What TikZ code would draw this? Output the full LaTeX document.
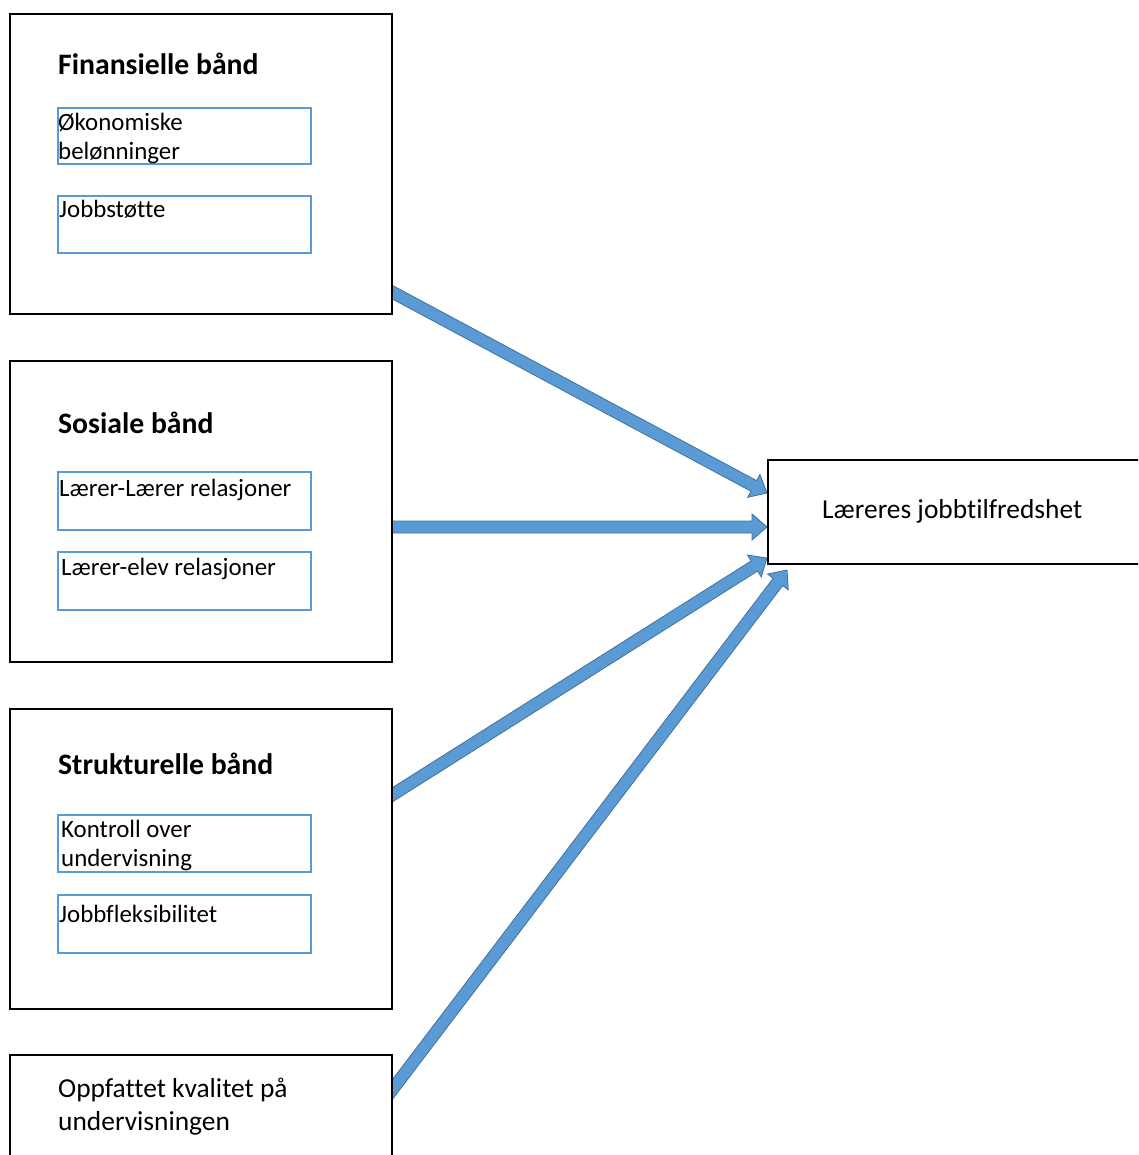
\documentclass[tikz,border=0pt]{standalone}
\usepackage{fontspec}
\setmainfont{Carlito}[Ligatures={NoCommon,NoContextual}]
\usetikzlibrary{calc}
\definecolor{arrfill}{RGB}{91,155,213}
\definecolor{arredge}{RGB}{65,113,156}
\definecolor{innerblue}{RGB}{91,155,213}
\newcommand\mkblockarrow[2]{%
  \coordinate (ba-S) at ($(#1)!-10pt!(#2)$);
  \coordinate (ba-P) at ($(#2)!15pt!(#1)$);
  \filldraw[fill=arrfill, draw=arredge, line width=0.8pt, line join=miter]
    ($(ba-S)!6pt!90:(#2)$) -- ($(ba-P)!6pt!90:(#2)$) -- ($(ba-P)!13pt!90:(#2)$) -- (#2)
    -- ($(ba-P)!13pt!-90:(#2)$) -- ($(ba-P)!6pt!-90:(#2)$) -- ($(ba-S)!6pt!-90:(#2)$) -- cycle;
}
\tikzset{
  bigbox/.style={draw=black, fill=white, line width=2.8pt, rectangle, inner sep=0pt, outer sep=0pt, anchor=north west},
  innerbox/.style={draw=innerblue, line width=2.6pt, rectangle, inner sep=0pt, outer sep=0pt, anchor=north west, minimum width=253pt},
  titletext/.style={font=\fontsize{29.7}{35}\selectfont\bfseries, inner sep=0pt, anchor=base west},
  itext/.style={font=\fontsize{24.9}{30}\selectfont, inner sep=0pt, anchor=base west},
  btext/.style={font=\fontsize{27.4}{33}\selectfont, inner sep=0pt, anchor=base west},
}
\begin{document}
\begin{tikzpicture}[x=1pt, y=-1pt]
\useasboundingbox (0,0) rectangle (1138,1155);
\clip (0,0) rectangle (1138,1155);
% boxes (coordinates only first, for arrows)
\path node[bigbox, draw=none, fill=none, minimum width=382pt, minimum height=300pt] (F) at (10,14) {}
      node[bigbox, draw=none, fill=none, minimum width=382pt, minimum height=301pt] (S) at (10,361) {}
      node[bigbox, draw=none, fill=none, minimum width=382pt, minimum height=300pt] (St) at (10,709) {}
      node[bigbox, draw=none, fill=none, minimum width=382pt, minimum height=120pt] (O) at (10,1055) {}
      node[bigbox, draw=none, fill=none, minimum width=390pt, minimum height=104pt] (T) at (768,460) {};
\coordinate (a1s) at ($(F.south east)+(0,-22)$);
\coordinate (a2s) at ($(S.north east)+(0,166)$);
\coordinate (a3s) at ($(St.north east)+(0,86)$);
\coordinate (a4s) at ($(O.north east)+(0,35)$);
\coordinate (a1t) at ($(T.north west)+(-1,33)$);
\coordinate (a2t) at ($(T.north west)+(-1,67)$);
\coordinate (a3t) at ($(T.south west)+(-1,-6)$);
\coordinate (a4t) at ($(T.south west)+(19,6)$);
\mkblockarrow{a1s}{a1t}
\mkblockarrow{a2s}{a2t}
\mkblockarrow{a3s}{a3t}
\mkblockarrow{a4s}{a4t}
% visible boxes
\node[bigbox, minimum width=382pt, minimum height=300pt] (Fb) at (10,14) {};
\node[bigbox, minimum width=382pt, minimum height=301pt] (Sb) at (10,361) {};
\node[bigbox, minimum width=382pt, minimum height=300pt] (Stb) at (10,709) {};
\node[bigbox, minimum width=382pt, minimum height=120pt] (Ob) at (10,1055) {};
\node[bigbox, minimum width=390pt, minimum height=104pt] (Tb) at (768,460) {};
% Finansielle
\node[titletext] (Ft) at (58,75) {Finansielle bånd};
\node[innerbox, minimum height=56pt] (F1) at (58,108) {};
\node[itext] (F1a) at (58,131) {Økonomiske};
\node[itext] (F1b) at (58,160) {belønninger};
\node[innerbox, minimum height=57pt] (F2) at (58,196) {};
\node[itext] (F2a) at (59,218) {Jobbstøtte};
% Sosiale
\node[titletext] (St1) at (58,433) {Sosiale bånd};
\node[innerbox, minimum height=58pt] (S1) at (58,472) {};
\node[itext] (S1a) at (59,496) {Lærer-Lærer relasjoner};
\node[innerbox, minimum height=58pt] (S2) at (58,552) {};
\node[itext] (S2a) at (61,575) {Lærer-elev relasjoner};
% Strukturelle
\node[titletext] (Stt) at (58,774) {Strukturelle bånd};
\node[innerbox, minimum height=57pt] (K1) at (58,815) {};
\node[itext] (K1a) at (61,837) {Kontroll over};
\node[itext] (K1b) at (61,866) {undervisning};
\node[innerbox, minimum height=58pt] (K2) at (58,895) {};
\node[itext] (K2a) at (59,922) {Jobbfleksibilitet};
% Oppfattet
\node[btext] (Oa) at (58,1097) {Oppfattet kvalitet på};
\node[btext] (Ob2) at (58,1130) {undervisningen};
% target
\node[btext] (Ta) at (822,518) {Læreres jobbtilfredshet};
\end{tikzpicture}
\end{document}
